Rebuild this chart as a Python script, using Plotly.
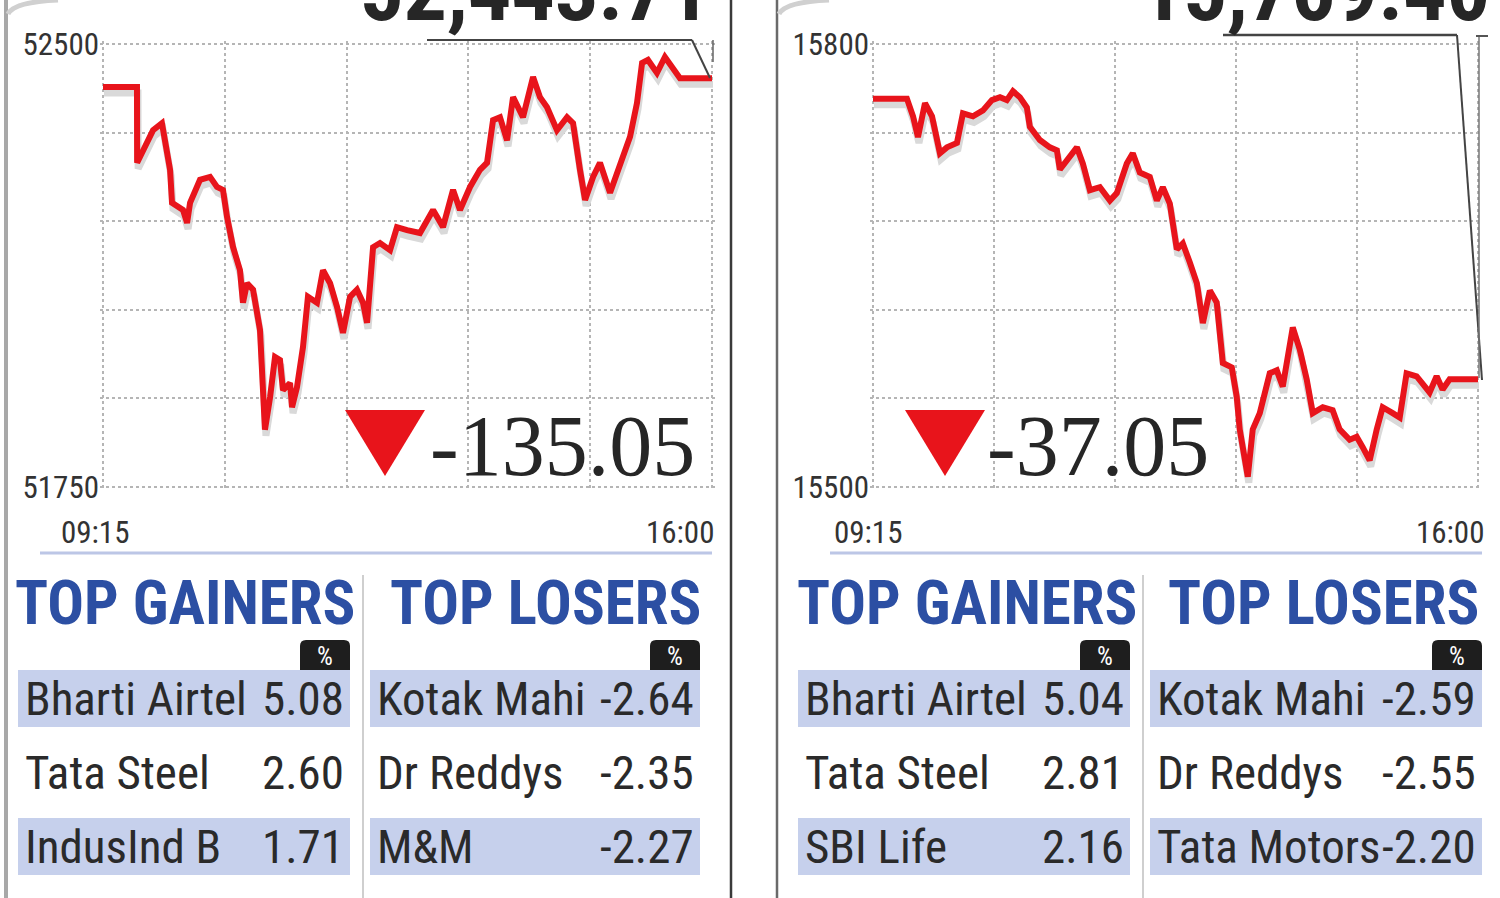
import plotly.graph_objects as go

W, H = 1500, 898

# ---------------- data ----------------
sensex_min = [0, 22.6, 22.7, 26.6, 33.3, 39.2, 41.2, 44.6, 45.9, 53.2, 55.9, 57.9, 64.5, 71.2, 75.8, 79.8,
              82.5, 86.5, 91.1, 93.1, 95.8, 99.8, 104.4, 107.7, 111.1, 114.4, 117.7, 119.7, 124.4, 125.7,
              129.0, 133.0, 136.3, 142.3, 146.3, 151.0, 155.6, 159.6, 164.3, 168.9, 172.9, 175.6, 179.6,
              184.2, 190.9, 195.5, 202.2, 210.8, 219.5, 226.1, 232.8, 237.4, 244.1, 250.7, 255.4, 259.4,
              264.0, 268.7, 272.7, 279.3, 286.0, 290.6, 295.3, 301.9, 308.6, 312.6, 317.2, 320.6, 325.9,
              330.5, 337.2, 343.8, 350.5, 355.1, 358.5, 362.4, 368.4, 373.7, 379.1, 383.7, 405]
sensex_val = [52427, 52427, 52299, 52321, 52354, 52366, 52337, 52287, 52231, 52219, 52197, 52231, 52270,
              52275, 52258, 52253, 52207, 52156, 52117, 52062, 52095, 52084, 52016, 51847, 51902, 51970,
              51965, 51914, 51926, 51885, 51919, 51987, 52072, 52062, 52117, 52095, 52055, 52011, 52072,
              52084, 52062, 52028, 52156, 52163, 52151, 52190, 52185, 52180, 52219, 52190, 52253, 52219,
              52258, 52287, 52299, 52371, 52376, 52337, 52410, 52376, 52444, 52410, 52393, 52354, 52376,
              52366, 52287, 52236, 52275, 52299, 52248, 52299, 52343, 52400, 52468, 52473, 52451, 52478,
              52456, 52442, 52442]

nifty_min = [0, 22.7, 26.8, 30.1, 34.8, 39.5, 44.8, 49.5, 56.2, 60.2, 66.9, 73.6, 79.6, 85.0, 89.6, 93.7,
             98.3, 103.0, 105.0, 111.7, 118.4, 123.1, 125.1, 129.8, 136.5, 140.5, 145.2, 151.9, 158.6,
             163.2, 169.9, 173.9, 178.6, 185.3, 190.0, 194.0, 198.7, 203.4, 207.4, 212.1, 216.8, 220.8,
             225.5, 230.1, 234.2, 240.2, 243.5, 245.5, 250.9, 254.2, 258.9, 265.6, 270.3, 274.3, 281.0,
             285.7, 290.3, 294.4, 301.1, 307.7, 312.4, 319.1, 323.8, 327.8, 332.5, 337.2, 341.2, 347.9,
             352.6, 357.2, 363.9, 372.6, 377.3, 381.3, 386.0, 405]
nifty_val = [15763, 15763, 15751, 15737, 15760, 15751, 15726, 15730, 15733, 15753, 15751, 15755, 15762,
             15764, 15762, 15768, 15764, 15757, 15744, 15735, 15730, 15728, 15715, 15721, 15730, 15719,
             15701, 15703, 15694, 15699, 15719, 15726, 15713, 15710, 15694, 15703, 15692, 15661, 15665,
             15652, 15638, 15611, 15633, 15625, 15584, 15581, 15561, 15539, 15507, 15539, 15550, 15577,
             15579, 15568, 15608, 15593, 15573, 15550, 15554, 15552, 15539, 15532, 15534, 15527, 15518,
             15539, 15554, 15550, 15547, 15577, 15575, 15564, 15575, 15566, 15573, 15573]

sensex_y_ticks = [52500, 52350, 52200, 52050, 51900, 51750]
sensex_y_text = ["52500", "", "", "", "", "51750"]
nifty_y_ticks = [15800, 15740, 15680, 15620, 15560, 15500]
nifty_y_text = ["15800", "", "", "", "", "15500"]
x_ticks = [0, 81, 162, 243, 324, 405]
x_labels = ["09:15", "16:00"]

sensex_close = "52,443.71"
sensex_change = "-135.05"
nifty_close = "15,769.40"
nifty_change = "-37.05"

gainers_left_names = ["Bharti Airtel", "Tata Steel", "IndusInd B"]
gainers_left_vals = [5.08, 2.60, 1.71]
losers_left_names = ["Kotak Mahi", "Dr Reddys", "M&M"]
losers_left_vals = [-2.64, -2.35, -2.27]
gainers_right_names = ["Bharti Airtel", "Tata Steel", "SBI Life"]
gainers_right_vals = [5.04, 2.81, 2.16]
losers_right_names = ["Kotak Mahi", "Dr Reddys", "Tata Motors"]
losers_right_vals = [-2.59, -2.55, -2.20]

# ---------------- styling ----------------
RED = "#e8141b"
SHADOW = "#d9d9d9"
GRID = "#b5b5b5"
BLUE = "#2c4fa3"
BAND = "#c6d0ec"
DARK = "#262626"
NARROW = "Liberation Sans Narrow, Roboto Condensed, DejaVu Sans Condensed, Arial Narrow, sans-serif"
SERIF = "Liberation Serif, DejaVu Serif, serif"


def px(x):
    return x / W


def py(y):
    return 1 - y / H


top_px, bot_px = 44, 487
PAD = 3  # px of padding so that edge grid lines stay inside the plot area
panels = [
    dict(x0=103, x1=712, vals=(51750, 52500), ticks=sensex_y_ticks, text=sensex_y_text,
         mins=sensex_min, series=sensex_val),
    dict(x0=873, x1=1478, vals=(15500, 15800), ticks=nifty_y_ticks, text=nifty_y_text,
         mins=nifty_min, series=nifty_val),
]

fig = go.Figure()
layout = dict(width=W, height=H, margin=dict(l=0, r=0, t=0, b=0, pad=0),
              paper_bgcolor="white", plot_bgcolor="rgba(0,0,0,0)", showlegend=False)

for i, p in enumerate(panels):
    base = i + 1          # 1,2 : base axes with grid
    sh = i + 3            # 3,4 : shadow overlay
    rd = i + 5            # 5,6 : red overlay
    lo, hi = p["vals"]
    per_px_y = (hi - lo) / (bot_px - top_px)
    per_px_x = 405 / (p["x1"] - p["x0"])
    xd = [px(p["x0"] - PAD), px(p["x1"] + PAD)]
    yd = [py(bot_px + PAD), py(top_px - PAD)]
    xr = [0 - PAD * per_px_x, 405 + PAD * per_px_x]
    yr = [lo - PAD * per_px_y, hi + PAD * per_px_y]
    bx = "xaxis" if base == 1 else f"xaxis{base}"
    by = "yaxis" if base == 1 else f"yaxis{base}"
    bxr = "x" if base == 1 else f"x{base}"
    byr = "y" if base == 1 else f"y{base}"
    layout[bx] = dict(domain=xd, range=xr, tickvals=x_ticks, showticklabels=False,
                      showgrid=True, gridcolor=GRID, griddash="dot", gridwidth=2,
                      zeroline=False, showline=False, ticks="", anchor=byr, fixedrange=True,
                      automargin=False)
    layout[by] = dict(domain=yd, range=yr, tickvals=p["ticks"], ticktext=p["text"],
                      showgrid=True, gridcolor=GRID, griddash="dot", gridwidth=2,
                      zeroline=False, showline=False, ticks="", anchor=bxr,
                      tickfont=dict(family=NARROW, size=31, color="#333"), ticklabelstandoff=0,
                      fixedrange=True, automargin=False)
    dy = 6 * per_px_y
    dx = 1 * per_px_x
    layout[f"xaxis{sh}"] = dict(overlaying=bxr, range=[xr[0] - dx, xr[1] - dx], visible=False,
                                anchor=f"y{sh}", automargin=False)
    layout[f"yaxis{sh}"] = dict(overlaying=byr, range=[yr[0] + dy, yr[1] + dy], visible=False,
                                anchor=f"x{sh}", automargin=False)
    layout[f"xaxis{rd}"] = dict(overlaying=bxr, range=xr, visible=False, anchor=f"y{rd}",
                                automargin=False)
    layout[f"yaxis{rd}"] = dict(overlaying=byr, range=yr, visible=False, anchor=f"x{rd}",
                                automargin=False)
    fig.add_trace(go.Scatter(x=[0, 405], y=[lo, lo], xaxis=bxr, yaxis=byr, mode="lines",
                             line=dict(width=0), hoverinfo="skip"))
    fig.add_trace(go.Scatter(x=p["mins"], y=p["series"], xaxis=f"x{sh}", yaxis=f"y{sh}",
                             mode="lines", line=dict(color=SHADOW, width=7), hoverinfo="skip"))
    fig.add_trace(go.Scatter(x=p["mins"], y=p["series"], xaxis=f"x{rd}", yaxis=f"y{rd}",
                             mode="lines", line=dict(color=RED, width=6)))

fig.update_layout(**layout)

shapes = []
ann = []


def line(x0, y0, x1, y1, color, width):
    shapes.append(dict(type="line", xref="paper", yref="paper", x0=px(x0), y0=py(y0),
                       x1=px(x1), y1=py(y1), line=dict(color=color, width=width)))


def rect(x0, y0, x1, y1, color):
    shapes.append(dict(type="rect", xref="paper", yref="paper", x0=px(x0), y0=py(y1),
                       x1=px(x1), y1=py(y0), fillcolor=color, line=dict(width=0), layer="below"))


def text(x, y, s, size, color, family, xanchor="left", yanchor="middle", bold=False):
    ann.append(dict(xref="paper", yref="paper", x=px(x), y=py(y), text=(f"<b>{s}</b>" if bold else s),
                    showarrow=False, xanchor=xanchor, yanchor=yanchor,
                    font=dict(size=size, color=color, family=family)))


# panel borders
line(6, 0, 6, 898, "#a8a8a8", 4)
line(731, 0, 731, 898, "#3a3a3a", 2.5)
line(777, 0, 777, 898, "#6a6a6a", 2.5)

# faint rounded panel corners at the top
for cx in (8, 779):
    shapes.append(dict(type="path", xref="paper", yref="paper",
                       path=f"M {px(cx)},{py(14)} Q {px(cx + 6)},{py(2)} {px(cx + 50)},{py(0)}",
                       line=dict(color="#d0d0d0", width=5)))

# separators under charts
line(40, 553, 712, 553, "#bcc6e6", 3)
line(830, 553, 1482, 553, "#bcc6e6", 3)

# brackets linking close value to last point
line(427, 40, 692, 40, "#444", 2)
line(692, 40, 710, 78, "#444", 2)
line(713, 40, 713, 62, "#666", 1.5)
line(1223, 35, 1457, 35, "#444", 2.5)
line(1457, 35, 1482, 380, "#444", 2)
line(1479, 37, 1479, 378, "#777", 1.5)
line(1476, 36, 1488, 36, "#555", 2)

# big close numbers (cut at top)
text(712, 43, sensex_close, 86, DARK, NARROW, xanchor="right", yanchor="bottom", bold=True)
text(1492, 43, nifty_close, 86, DARK, NARROW, xanchor="right", yanchor="bottom", bold=True)

# change triangles + numbers
for (tx, cx, s) in [(345, 428, sensex_change), (905, 985, nifty_change)]:
    shapes.append(dict(type="path", xref="paper", yref="paper",
                       path=f"M {px(tx)},{py(410)} L {px(tx + 80)},{py(410)} L {px(tx + 40)},{py(476)} Z",
                       fillcolor=RED, line=dict(width=0)))
    text(cx, 446, s, 86, DARK, SERIF)

# time labels
text(95, 532, x_labels[0], 31, "#333", NARROW, xanchor="center")
text(716, 532, x_labels[1], 31, "#333", NARROW, xanchor="right")
text(868, 532, x_labels[0], 31, "#333", NARROW, xanchor="center")
text(1486, 532, x_labels[1], 31, "#333", NARROW, xanchor="right")

# tables
tables = [
    (gainers_left_names, gainers_left_vals, 18, 350, 13, "TOP GAINERS"),
    (losers_left_names, losers_left_vals, 370, 700, 388, "TOP LOSERS"),
    (gainers_right_names, gainers_right_vals, 798, 1130, 795, "TOP GAINERS"),
    (losers_right_names, losers_right_vals, 1150, 1482, 1166, "TOP LOSERS"),
]
row_y = [698, 772, 846]
for names, vals, x0, x1, hx, title in tables:
    text(hx, 603, title, 61, BLUE, NARROW, bold=True)
    # % box
    shapes.append(dict(type="path", xref="paper", yref="paper",
                       path=(f"M {px(x1 - 50)},{py(670)} L {px(x1 - 50)},{py(646)} "
                             f"Q {px(x1 - 50)},{py(640)} {px(x1 - 44)},{py(640)} "
                             f"L {px(x1 - 6)},{py(640)} Q {px(x1)},{py(640)} {px(x1)},{py(646)} "
                             f"L {px(x1)},{py(670)} Z"),
                       fillcolor="#1e1e1e", line=dict(width=0)))
    text(x1 - 25, 656, "%", 25, "white", NARROW, xanchor="center")
    for k, (n, v) in enumerate(zip(names, vals)):
        if k % 2 == 0:
            rect(x0, row_y[k] - 28, x1, row_y[k] + 29, BAND)
        text(x0 + 5, row_y[k], n, 47, "#2a2a2a", NARROW)
        text(x1 - 4, row_y[k], f"{v:.2f}", 47, "#2a2a2a", NARROW, xanchor="right")

# column dividers
line(363, 575, 363, 898, "#cfcfcf", 2)
line(1143, 575, 1143, 898, "#cfcfcf", 2)

fig.update_layout(shapes=shapes, annotations=ann)
fig.write_html("out.html", config={"displayModeBar": False, "staticPlot": True},
               post_script="document.body.style.margin='0';document.body.style.overflow='hidden';")
